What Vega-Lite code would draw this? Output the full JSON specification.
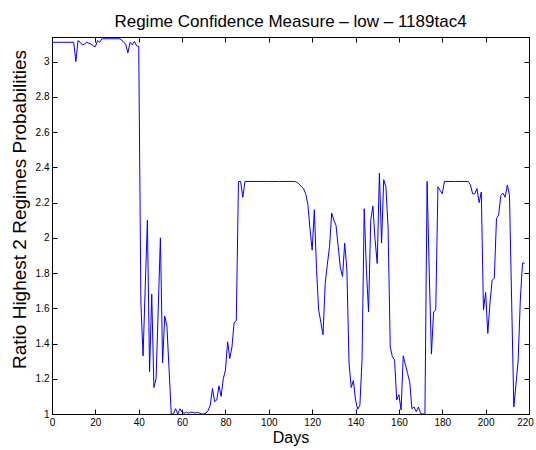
{
  "$schema": "https://vega.github.io/schema/vega-lite/v6.json",
  "autosize": {"type": "none"},
  "width": 477,
  "height": 377,
  "padding": {"left": 52, "top": 37, "right": 7, "bottom": 36},
  "background": "white",
  "title": {
    "text": "Regime Confidence Measure – low – 1189tac4",
    "font": "Liberation Sans",
    "fontSize": 17,
    "fontWeight": "normal",
    "color": "black",
    "offset": 6
  },
  "config": {
    "view": {"stroke": "black", "strokeWidth": 1},
    "axis": {
      "grid": false,
      "domainColor": "black",
      "tickColor": "black",
      "labelColor": "black",
      "titleColor": "black",
      "labelFont": "Liberation Sans",
      "titleFont": "Liberation Sans",
      "labelFontSize": 10,
      "titleFontSize": 16,
      "titleFontWeight": "normal",
      "tickSize": -5,
      "labelFlush": false,
      "labelOverlap": false,
      "labelBound": false
    }
  },
  "data": {
    "values": [
      {"day": 0, "ratio": 3.11}, {"day": 5, "ratio": 3.11}, {"day": 10, "ratio": 3.11},
      {"day": 11, "ratio": 3.0}, {"day": 12, "ratio": 3.12}, {"day": 13, "ratio": 3.11},
      {"day": 14, "ratio": 3.095}, {"day": 15, "ratio": 3.1}, {"day": 16, "ratio": 3.11},
      {"day": 17, "ratio": 3.105}, {"day": 18, "ratio": 3.1}, {"day": 19, "ratio": 3.09},
      {"day": 20, "ratio": 3.085}, {"day": 21, "ratio": 3.12}, {"day": 22, "ratio": 3.11},
      {"day": 23, "ratio": 3.13}, {"day": 25, "ratio": 3.13}, {"day": 27, "ratio": 3.13},
      {"day": 29, "ratio": 3.13}, {"day": 31, "ratio": 3.13}, {"day": 32, "ratio": 3.125},
      {"day": 33, "ratio": 3.11}, {"day": 34, "ratio": 3.1}, {"day": 35, "ratio": 3.05},
      {"day": 36, "ratio": 3.11}, {"day": 37, "ratio": 3.095}, {"day": 38, "ratio": 3.115},
      {"day": 39, "ratio": 3.09}, {"day": 40, "ratio": 3.087}, {"day": 41, "ratio": 1.63},
      {"day": 42, "ratio": 1.33}, {"day": 43, "ratio": 1.72}, {"day": 44, "ratio": 2.1},
      {"day": 45, "ratio": 1.24}, {"day": 46, "ratio": 1.68}, {"day": 47, "ratio": 1.15},
      {"day": 48, "ratio": 1.2}, {"day": 49, "ratio": 1.6}, {"day": 50, "ratio": 2.0},
      {"day": 51, "ratio": 1.29}, {"day": 52, "ratio": 1.555}, {"day": 53, "ratio": 1.5},
      {"day": 54, "ratio": 1.25}, {"day": 55, "ratio": 1.0}, {"day": 56, "ratio": 1.0},
      {"day": 57, "ratio": 1.03}, {"day": 58, "ratio": 1.0}, {"day": 59, "ratio": 1.03},
      {"day": 60, "ratio": 1.01}, {"day": 61, "ratio": 1.005}, {"day": 62, "ratio": 1.01},
      {"day": 63, "ratio": 1.005}, {"day": 64, "ratio": 1.01}, {"day": 65, "ratio": 1.01},
      {"day": 66, "ratio": 1.005}, {"day": 67, "ratio": 1.01}, {"day": 68, "ratio": 1.005},
      {"day": 69, "ratio": 1.0}, {"day": 70, "ratio": 1.0}, {"day": 71, "ratio": 1.005},
      {"day": 72, "ratio": 1.02}, {"day": 73, "ratio": 1.05}, {"day": 74, "ratio": 1.145},
      {"day": 75, "ratio": 1.07}, {"day": 76, "ratio": 1.08}, {"day": 77, "ratio": 1.16},
      {"day": 78, "ratio": 1.1}, {"day": 79, "ratio": 1.2}, {"day": 80, "ratio": 1.25},
      {"day": 81, "ratio": 1.41}, {"day": 82, "ratio": 1.315}, {"day": 83, "ratio": 1.38},
      {"day": 84, "ratio": 1.52}, {"day": 85, "ratio": 1.53}, {"day": 86, "ratio": 2.32},
      {"day": 87, "ratio": 2.32}, {"day": 88, "ratio": 2.23}, {"day": 89, "ratio": 2.32},
      {"day": 95, "ratio": 2.32}, {"day": 100, "ratio": 2.32}, {"day": 105, "ratio": 2.32},
      {"day": 112, "ratio": 2.32}, {"day": 113, "ratio": 2.315}, {"day": 114, "ratio": 2.305},
      {"day": 115, "ratio": 2.29}, {"day": 116, "ratio": 2.28}, {"day": 117, "ratio": 2.25},
      {"day": 118, "ratio": 2.19}, {"day": 119, "ratio": 2.05}, {"day": 120, "ratio": 1.93},
      {"day": 121, "ratio": 2.16}, {"day": 122, "ratio": 1.82}, {"day": 123, "ratio": 1.59},
      {"day": 124, "ratio": 1.52}, {"day": 125, "ratio": 1.45}, {"day": 126, "ratio": 1.74},
      {"day": 127, "ratio": 1.85}, {"day": 128, "ratio": 1.95}, {"day": 129, "ratio": 2.14},
      {"day": 130, "ratio": 2.1}, {"day": 131, "ratio": 2.07}, {"day": 132, "ratio": 1.95},
      {"day": 133, "ratio": 1.83}, {"day": 134, "ratio": 1.78}, {"day": 135, "ratio": 1.97},
      {"day": 136, "ratio": 1.82}, {"day": 137, "ratio": 1.29}, {"day": 138, "ratio": 1.15},
      {"day": 139, "ratio": 1.19}, {"day": 140, "ratio": 1.08}, {"day": 141, "ratio": 1.027},
      {"day": 142, "ratio": 1.05}, {"day": 143, "ratio": 1.31}, {"day": 144, "ratio": 2.165},
      {"day": 145, "ratio": 1.82}, {"day": 146, "ratio": 1.58}, {"day": 147, "ratio": 2.1},
      {"day": 148, "ratio": 2.18}, {"day": 149, "ratio": 1.99}, {"day": 150, "ratio": 1.854},
      {"day": 151, "ratio": 2.367}, {"day": 152, "ratio": 1.97}, {"day": 153, "ratio": 2.33},
      {"day": 154, "ratio": 2.29}, {"day": 155, "ratio": 2.06}, {"day": 156, "ratio": 1.38},
      {"day": 157, "ratio": 1.325}, {"day": 158, "ratio": 1.306}, {"day": 159, "ratio": 1.08},
      {"day": 160, "ratio": 1.11}, {"day": 161, "ratio": 1.023}, {"day": 162, "ratio": 1.33},
      {"day": 163, "ratio": 1.28}, {"day": 164, "ratio": 1.23}, {"day": 165, "ratio": 1.18},
      {"day": 166, "ratio": 1.03}, {"day": 167, "ratio": 1.04}, {"day": 168, "ratio": 1.013},
      {"day": 169, "ratio": 1.04}, {"day": 170, "ratio": 1.004}, {"day": 171, "ratio": 1.0},
      {"day": 172, "ratio": 1.0}, {"day": 173, "ratio": 2.32}, {"day": 174, "ratio": 1.8},
      {"day": 175, "ratio": 1.34}, {"day": 176, "ratio": 1.58}, {"day": 177, "ratio": 1.59},
      {"day": 178, "ratio": 2.29}, {"day": 179, "ratio": 2.27}, {"day": 180, "ratio": 2.25},
      {"day": 181, "ratio": 2.32}, {"day": 186, "ratio": 2.32}, {"day": 192, "ratio": 2.32},
      {"day": 193, "ratio": 2.3}, {"day": 194, "ratio": 2.25}, {"day": 195, "ratio": 2.25},
      {"day": 196, "ratio": 2.28}, {"day": 197, "ratio": 2.2}, {"day": 198, "ratio": 2.26},
      {"day": 199, "ratio": 1.59}, {"day": 200, "ratio": 1.69}, {"day": 201, "ratio": 1.457},
      {"day": 202, "ratio": 1.63}, {"day": 203, "ratio": 1.76}, {"day": 204, "ratio": 1.77},
      {"day": 205, "ratio": 2.11}, {"day": 206, "ratio": 2.13}, {"day": 207, "ratio": 2.24},
      {"day": 208, "ratio": 2.254}, {"day": 209, "ratio": 2.23}, {"day": 210, "ratio": 2.3},
      {"day": 211, "ratio": 2.24}, {"day": 212, "ratio": 1.64}, {"day": 213, "ratio": 1.04},
      {"day": 214, "ratio": 1.17}, {"day": 215, "ratio": 1.306}, {"day": 216, "ratio": 1.646},
      {"day": 217, "ratio": 1.857}, {"day": 218, "ratio": 1.857}
    ]
  },
  "layer": [
    {
      "mark": {"type": "line", "color": "#0000ff", "strokeWidth": 1, "clip": true},
      "encoding": {
        "x": {
          "field": "day", "type": "quantitative",
          "scale": {"domain": [0, 220], "nice": false, "zero": false},
          "axis": {"title": "Days", "values": [0, 20, 40, 60, 80, 100, 120, 140, 160, 180, 200, 220], "labelPadding": 8, "titlePadding": 2, "labelOffset": {"condition": {"test": "datum.value == 220", "value": -4}, "value": 0}}
        },
        "y": {
          "field": "ratio", "type": "quantitative",
          "scale": {"domain": [1, 3.14], "nice": false, "zero": false},
          "axis": {"title": "Ratio Highest 2 Regimes Probabilities", "titleFontSize": 19, "titleY": 172, "values": [1, 1.2, 1.4, 1.6, 1.8, 2, 2.2, 2.4, 2.6, 2.8, 3], "format": ".1~f", "labelPadding": 8, "titlePadding": 6}
        }
      }
    },
    {
      "mark": {"type": "line", "opacity": 0},
      "encoding": {
        "x": {
          "field": "day", "type": "quantitative",
          "axis": {"orient": "top", "title": null, "labels": false, "values": [0, 20, 40, 60, 80, 100, 120, 140, 160, 180, 200, 220]}
        },
        "y": {
          "field": "ratio", "type": "quantitative",
          "axis": {"orient": "right", "title": null, "labels": false, "values": [1, 1.2, 1.4, 1.6, 1.8, 2, 2.2, 2.4, 2.6, 2.8, 3]}
        }
      }
    }
  ],
  "resolve": {"axis": {"x": "independent", "y": "independent"}}
}
